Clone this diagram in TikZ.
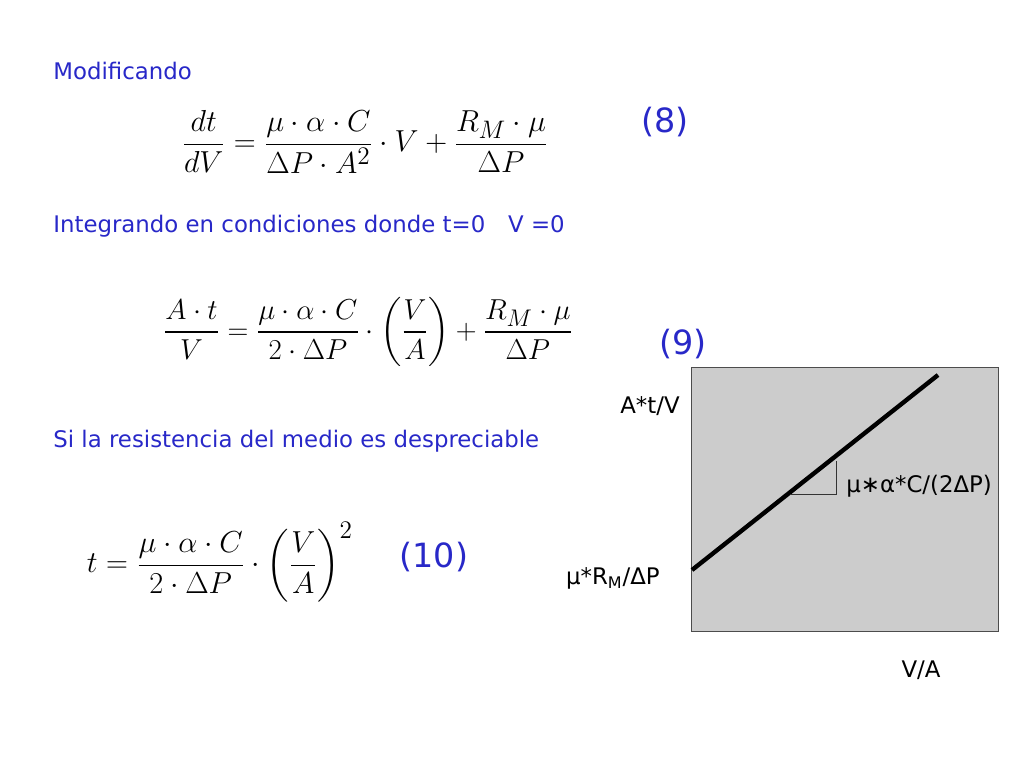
\documentclass[tikz,border=0pt]{standalone}
\usepackage{amsmath}
\usepackage{fontspec}
\setmainfont{DejaVu Sans}
\usepackage{xcolor}
\usepackage{tikz}
\definecolor{slideblue}{RGB}{40,40,200}
\definecolor{plotgray}{RGB}{204,204,204}

\begin{document}
\begin{tikzpicture}[
    x=0.02cm, y=-0.02cm,
    bluetext/.style={anchor=west, text=slideblue, font=\fontsize{13}{15}\selectfont, inner sep=0pt},
    eqnum/.style={text=slideblue, font=\fontsize{19}{22}\selectfont, inner sep=0pt},
    formula/.style={font=\fontsize{19}{23}\selectfont, inner sep=0pt},
    axislabel/.style={font=\fontsize{13}{15}\selectfont, inner sep=0pt}
]
    \useasboundingbox (0,0) rectangle (1024,768);

    % Modificando
    \node[bluetext] (mod) at (53,71) {Modificando};
    \node[formula] (eq8) at (365,142) {$\dfrac{dt}{dV}=\dfrac{\mu\cdot\alpha\cdot C}{\Delta P\cdot A^{2}}\cdot V+\dfrac{R_{M}\cdot\mu}{\Delta P}$};
    \node[eqnum] (n8) at (665,122) {(8)};

    % Integrando
    \node[bluetext] (int) at (53,226) {Integrando en condiciones donde t=0\quad V =0};
    \node[formula, scale=0.95] (eq9) at (368,332) {$\dfrac{A\cdot t}{V}=\dfrac{\mu\cdot\alpha\cdot C}{2\cdot\Delta P}\cdot\left(\dfrac{V}{A}\right)+\dfrac{R_{M}\cdot\mu}{\Delta P}$};
    \node[eqnum] (n9) at (683,344) {(9)};

    % Resistencia despreciable
    \node[bluetext] (res) at (53,441) {Si la resistencia del medio es despreciable};
    \node[formula] (eq10) at (220,562) {$t=\dfrac{\mu\cdot\alpha\cdot C}{2\cdot\Delta P}\cdot\left(\dfrac{V}{A}\right)^{2}$};
    \node[eqnum] (n10) at (434,557) {(10)};

    % Plot
    \draw[fill=plotgray, draw=black!70] (691,367) rectangle (998,631);
    \coordinate (l0) at (692,570);
    \coordinate (l1) at (938,375);
    \draw[line width=2.5pt] (l0) -- (l1);
    \draw[black!80] (790,494) -- (836,494) -- (836,461);
    \node[axislabel, anchor=west] (slope) at (846,486) {μ∗α*C/(2ΔP)};
    \node[axislabel, anchor=east] (yl) at (680,406) {A*t/V};
    \node[axislabel, anchor=east] (yi) at (660,578) {μ*R\textsubscript{M}/ΔP};
    \node[axislabel] (xl) at (921,670) {V/A};
\end{tikzpicture}
\end{document}
